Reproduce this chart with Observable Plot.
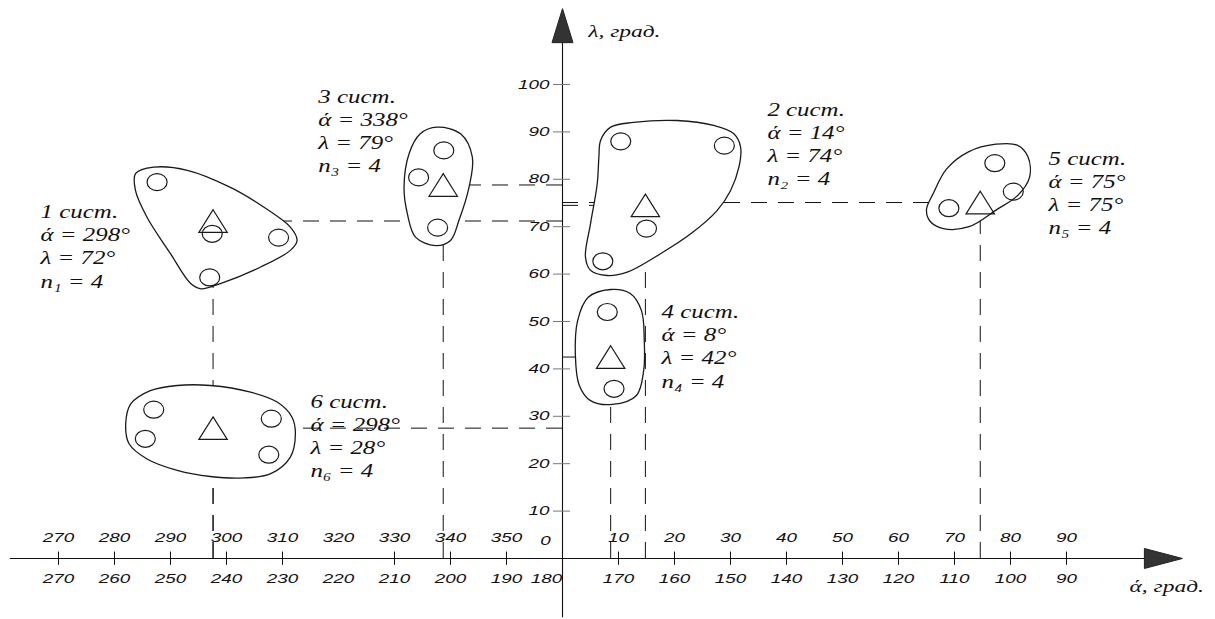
<!DOCTYPE html>
<html><head><meta charset="utf-8">
<script src="https://cdn.jsdelivr.net/npm/d3@7"></script>
<script src="https://cdn.jsdelivr.net/npm/@observablehq/plot@0.6"></script>
<style>html,body{margin:0;padding:0;background:#fff;} svg{display:block}</style>
</head><body><div id="chart"></div>
<script>
// ---------- data (ά as signed offset from 0°: 298° → −62) ----------
const systemIds    = [1, 2, 3, 4, 5, 6];
const centerAlpha  = [-62.4, 14.8, -21.3, 8.6, 74.6, -62.4];
const centerLambda = [71.2, 74.5, 78.8, 42.5, 75.1, 27.5];
const alphaText    = [298, 14, 338, 8, 75, 298];
const lambdaText   = [72, 74, 79, 42, 75, 28];
const countText    = [4, 4, 4, 4, 4, 4];
const labelAlpha   = [-93.2, 36.6, -43.6, 17.7, 86.8, -45.0];
const labelLambda  = [75.2, 96.8, 99.5, 54.1, 86.4, 35.3];

const memberSystem = [1,1,1,1, 2,2,2,2, 3,3,3, 4,4, 5,5,5, 6,6,6,6];
const memberAlpha  = [-72.4,-50.7,-63.0,-62.55, 10.4,28.9,15.0,7.2, -21.2,-25.7,-22.3, 8.0,9.2, 77.2,80.5,69.0, -73.0,-74.5,-52.0,-52.45];
const memberLambda = [79.4,67.7,59.3,68.5, 88.0,87.1,69.6,62.7, 86.1,80.4,69.8, 52.0,35.8, 83.4,77.4,73.9, 31.4,25.25,29.5,21.9];

const outline1 = [[-76.25,81.2],[-72.98,82.55],[-67.0,81.9],[-59.3,78.3],[-53.3,74.1],[-48.6,69.9],[-47.4,67.1],[-48.6,65.0],[-53.9,61.5],[-61.1,58.0],[-64.6,56.9],[-66.4,58.0],[-70.0,64.3],[-74.2,72.0],[-76.25,77.6]];
const outline2 = [[6.8,88.2],[8.6,91.0],[12.7,92.0],[20.5,92.4],[27.0,91.35],[30.6,89.6],[31.8,86.8],[31.5,82.55],[30.0,77.6],[27.6,73.4],[22.9,68.5],[17.5,64.3],[11.55,60.4],[8.0,59.7],[5.0,60.8],[4.1,63.6],[5.0,70.6],[6.2,79.05],[6.5,84.7]];
const outline3 = [[-22.4,91.0],[-18.2,89.6],[-16.1,84.7],[-16.7,78.3],[-18.5,71.3],[-20.0,67.1],[-22.7,66.0],[-26.25,67.8],[-27.7,72.7],[-28.3,78.3],[-27.4,85.4],[-25.4,89.6]];
const outline4 = [[8.6,56.75],[12.1,55.9],[14.1,52.3],[14.6,46.0],[14.5,39.7],[13.2,34.4],[8.9,32.5],[5.0,33.3],[3.0,36.5],[2.3,42.8],[2.7,50.2],[4.6,55.1]];
const outline5 = [[65.0,73.6],[66.2,77.0],[68.6,82.2],[72.5,85.8],[77.4,87.4],[81.2,87.2],[83.1,84.8],[83.4,80.4],[81.3,76.6],[77.4,73.5],[72.6,70.0],[68.0,69.6],[65.6,71.2]];
const outline6 = [[-77.1,32.6],[-73.6,35.4],[-68.8,36.5],[-62.9,36.5],[-55.7,35.1],[-50.95,33.0],[-48.3,29.8],[-47.7,26.3],[-48.6,21.4],[-52.1,17.9],[-56.9,17.0],[-62.9,17.3],[-68.8,18.6],[-74.2,21.0],[-77.4,24.2],[-78.0,28.4]];

const xTickPos    = [-90,-80,-70,-60,-50,-40,-30,-20,-10,0,10,20,30,40,50,60,70,80,90];
const upperLabels = [270,280,290,300,310,320,330,340,350,0,10,20,30,40,50,60,70,80,90];
const lowerLabels = [270,260,250,240,230,220,210,200,190,180,170,160,150,140,130,120,110,100,90];
const yTicks      = [10,20,30,40,50,60,70,80,90,100];
const subDigits   = ["₀","₁","₂","₃","₄","₅","₆"];

// ---------- tables ----------
const systems = systemIds.map((id, i) => ({
  id, a: centerAlpha[i], l: centerLambda[i], la: labelAlpha[i], ll: labelLambda[i],
  text: `${id} сист.\nά = ${alphaText[i]}°\nλ = ${lambdaText[i]}°\nn${subDigits[id]} = ${countText[i]}`
}));
const members = memberSystem.map((s, i) => ({s, a: memberAlpha[i], l: memberLambda[i]}));
const outlines = [outline1, outline2, outline3, outline4, outline5, outline6]
  .flatMap((o, k) => o.map(([a, l]) => ({s: k + 1, a, l})));
const xTicks = xTickPos.map((x, i) => ({x, up: upperLabels[i], low: lowerLabels[i]}));
const xTickMarks = xTicks.filter(d => d.x !== 0 && d.x !== -40);
const xLabelsMain = xTicks.filter(d => d.x !== 0);
const xLabelsZero = xTicks.filter(d => d.x === 0);

// axis geometry (data units)
const xAxisFrom = -98.6, xArrowTip = 110.7;
const yAxisFrom = -12.5, yArrowTip = 116.0;

// ---------- symbols ----------
const ellipseSymbol = {draw(c) { const rx = 10, ry = 8.5, k = 0.5523;
  c.moveTo(rx, 0); c.bezierCurveTo(rx, k*ry, k*rx, ry, 0, ry); c.bezierCurveTo(-k*rx, ry, -rx, k*ry, -rx, 0);
  c.bezierCurveTo(-rx, -k*ry, -k*rx, -ry, 0, -ry); c.bezierCurveTo(k*rx, -ry, rx, -k*ry, rx, 0); c.closePath(); }};
const triangleSymbol = {draw(c) { c.moveTo(0, -11.3); c.lineTo(14.2, 11.3); c.lineTo(-14.2, 11.3); c.closePath(); }};
const arrowRight = {draw(c) { c.moveTo(0, 0); c.lineTo(-38, -10); c.lineTo(-38, 10); c.closePath(); }};
const arrowUp = {draw(c) { c.moveTo(0, 0); c.lineTo(10.5, 34); c.lineTo(-10.5, 34); c.closePath(); }};

const sans = "Liberation Sans, Arial, sans-serif";
const serif = "Liberation Serif, Times New Roman, serif";
const ink = "#111";
const dash = "16,11";

const svg = Plot.plot({
  width: 1215, height: 619, margin: 0,
  x: {domain: [-100.36, 116.61], axis: null},
  y: {domain: [-12.87, 117.72], axis: null},
  marks: [
    // guide lines
    Plot.ruleX(systems, {x: "a", y1: 0, y2: "l", stroke: ink, strokeWidth: 1, strokeDasharray: dash}),
    Plot.ruleY(systems, {y: "l", x1: 0, x2: "a", stroke: ink, strokeWidth: 1, strokeDasharray: dash}),
    // blobs
    Plot.line(outlines, {x: "a", y: "l", z: "s", curve: "catmull-rom-closed", fill: "white", stroke: "#1a1a1a", strokeWidth: 1.3}),
    // axes
    Plot.ruleY([0], {x1: xAxisFrom, x2: xArrowTip - 5, stroke: ink, strokeWidth: 1.1}),
    Plot.ruleX([0], {y1: yAxisFrom, y2: yArrowTip - 5, stroke: ink, strokeWidth: 1.1}),
    Plot.dot([{x: xArrowTip, y: 0}], {x: "x", y: "y", symbol: arrowRight, fill: "#333", stroke: "#222", strokeWidth: 1}),
    Plot.dot([{x: 0, y: yArrowTip}], {x: "x", y: "y", symbol: arrowUp, fill: "#333", stroke: "#222", strokeWidth: 1}),
    Plot.ruleX(xTickMarks, {x: "x", y1: -1.45, y2: 1.35, stroke: ink, strokeWidth: 1}),
    Plot.ruleY(yTicks, {y: d => d, x1: -1.6, x2: 1.43, stroke: "#777", strokeWidth: 1}),
    Plot.text(xLabelsMain, {x: "x", y: 4.4, text: d => String(d.up), textAnchor: "middle", fontSize: 13, fontStyle: "italic", fontFamily: sans, fill: ink}),
    Plot.text(xLabelsMain, {x: "x", y: -4.3, text: d => String(d.low), textAnchor: "middle", fontSize: 13, fontStyle: "italic", fontFamily: sans, fill: ink}),
    Plot.text(xLabelsZero, {x: "x", y: 3.8, dx: -17, text: d => String(d.up), textAnchor: "middle", fontSize: 13, fontStyle: "italic", fontFamily: sans, fill: ink}),
    Plot.text(xLabelsZero, {x: "x", y: -4.3, dx: -16, text: d => String(d.low), textAnchor: "middle", fontSize: 13, fontStyle: "italic", fontFamily: sans, fill: ink}),
    Plot.text(yTicks, {x: 0, y: d => d, dx: -13, text: d => String(d), textAnchor: "end", fontSize: 13, fontStyle: "italic", fontFamily: sans, fill: ink}),
    // axis titles
    Plot.text(["λ, град."], {x: 4.6, y: 111.2, text: d => d, textAnchor: "start", fontSize: 17, fontStyle: "italic", fontFamily: serif, fill: ink}),
    Plot.text(["ά, град."], {x: 107.9, y: -5.9, text: d => d, textAnchor: "middle", fontSize: 17, fontStyle: "italic", fontFamily: serif, fill: ink}),
    // members and centres
    Plot.dot(members, {x: "a", y: "l", symbol: ellipseSymbol, fill: "none", stroke: "#1a1a1a", strokeWidth: 1.2}),
    Plot.dot(systems, {x: "a", y: "l", symbol: triangleSymbol, fill: "none", stroke: "#1a1a1a", strokeWidth: 1.2}),
    // annotations
    Plot.text(systems, {x: "la", y: "ll", text: "text", textAnchor: "start", lineAnchor: "top", lineHeight: 1.28, fontSize: 18, fontStyle: "italic", fontFamily: serif, fill: ink})
  ]
});

// horizontal stretch of the lettering, as in the reference
svg.querySelectorAll("text").forEach(t => {
  const g = t.closest("g[font-family]");
  const fam = g ? g.getAttribute("font-family") : "";
  const s = fam.includes("Serif") ? 1.38 : 1.45;
  t.setAttribute("transform", (t.getAttribute("transform") || "") + ` scale(${s},1)`);
});
document.getElementById("chart").appendChild(svg);
</script>
</body></html>
